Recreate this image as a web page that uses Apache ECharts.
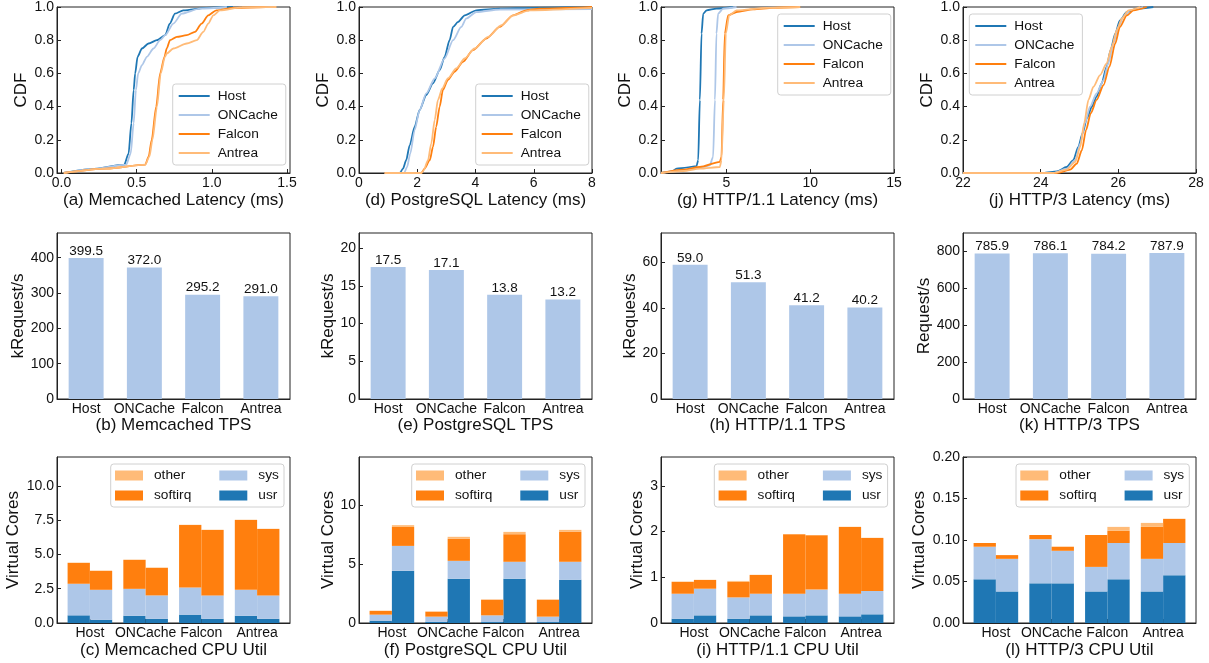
<!DOCTYPE html>
<html>
<head>
<meta charset="utf-8">
<script src="https://cdn.jsdelivr.net/npm/echarts@6/dist/echarts.min.js"></script>
<style>
html, body { margin: 0; padding: 0; background: #fff; }
#chart { width: 1209px; height: 663px; }
</style>
</head>
<body>
<div id="chart"></div>
<script>
var systems = ['Host', 'ONCache', 'Falcon', 'Antrea'];
var cpuParts = ['usr', 'sys', 'softirq', 'other'];

// CDF curves, [latency, cdf]
var memHost = [[0.015,0],[0.2,0.023],[0.417,0.05],[0.446,0.117],[0.465,0.3],[0.48,0.5],[0.49,0.6],[0.506,0.7],[0.535,0.75],[0.579,0.78],[0.634,0.8],[0.69,0.83],[0.72,0.9],[0.755,0.96],[0.81,0.98],[0.965,0.995],[1.14,1.0]];
var memOnc = [[0.015,0],[0.2,0.023],[0.43,0.05],[0.46,0.117],[0.48,0.3],[0.495,0.5],[0.51,0.6],[0.535,0.65],[0.568,0.7],[0.612,0.75],[0.656,0.8],[0.69,0.83],[0.744,0.9],[0.8,0.96],[0.92,0.99],[1.1,1.0]];
var memFal = [[0.015,0],[0.3,0.026],[0.557,0.05],[0.58,0.1],[0.6,0.2],[0.63,0.4],[0.656,0.6],[0.685,0.7],[0.7,0.75],[0.722,0.8],[0.767,0.82],[0.833,0.83],[0.888,0.85],[0.932,0.9],[0.976,0.95],[1.03,0.98],[1.14,0.995],[1.36,1.0]];
var memAnt = [[0.015,0],[0.3,0.026],[0.557,0.05],[0.585,0.1],[0.605,0.2],[0.635,0.4],[0.66,0.6],[0.688,0.7],[0.7,0.72],[0.744,0.75],[0.833,0.78],[0.9,0.8],[0.943,0.85],[0.976,0.9],[1.01,0.95],[1.054,0.98],[1.2,0.998],[1.43,1.0]];

var pgHost = [[0.88,0],[1.4,0],[1.51,0.026],[1.62,0.077],[1.74,0.167],[1.91,0.278],[2.08,0.379],[2.31,0.47],[2.54,0.54],[2.77,0.62],[2.94,0.7],[3.11,0.8],[3.23,0.88],[3.4,0.91],[3.63,0.95],[4.03,0.98],[4.83,0.99],[6.0,0.995],[8,1.0]];
var pgOnc = [[0.88,0],[1.55,0],[1.65,0.036],[1.76,0.117],[1.91,0.258],[2.08,0.379],[2.31,0.48],[2.6,0.57],[2.94,0.69],[3.23,0.8],[3.51,0.88],[3.68,0.93],[4.03,0.97],[4.83,0.985],[8,0.988]];
var pgFal = [[0.88,0],[2.14,0],[2.25,0.026],[2.43,0.077],[2.54,0.157],[2.65,0.278],[2.77,0.4],[2.88,0.5],[3.05,0.56],[3.28,0.61],[3.57,0.67],[3.91,0.74],[4.37,0.81],[4.83,0.88],[5.29,0.95],[5.74,0.98],[6.2,0.99],[8,1.0]];
var pgAnt = [[0.88,0],[2.14,0],[2.22,0.016],[2.37,0.077],[2.48,0.177],[2.6,0.32],[2.71,0.44],[2.86,0.51],[3.05,0.57],[3.34,0.63],[3.63,0.69],[3.97,0.75],[4.43,0.82],[4.89,0.89],[5.29,0.95],[5.86,0.98],[8,0.995]];

var h1Host = [[1.09,0],[1.73,0.008],[2.02,0.026],[2.62,0.032],[3.21,0.042],[3.31,0.077],[3.41,0.44],[3.51,0.84],[3.61,0.96],[3.81,0.98],[4.4,0.99],[5.4,1.0]];
var h1Onc = [[1.09,0],[2.02,0.012],[2.82,0.026],[3.61,0.036],[4.0,0.046],[4.2,0.097],[4.31,0.44],[4.4,0.84],[4.5,0.96],[4.8,0.99],[5.6,1.0]];
var h1Fal = [[1.09,0],[2.42,0.02],[3.41,0.036],[4.6,0.067],[4.7,0.097],[4.8,0.44],[4.9,0.84],[5.1,0.95],[5.6,0.97],[6.59,0.986],[7.78,0.995],[9.4,1.0]];
var h1Ant = [[1.09,0],[2.42,0.012],[3.41,0.026],[4.6,0.036],[4.7,0.077],[4.84,0.44],[4.96,0.84],[5.16,0.95],[5.6,0.98],[7.4,0.995],[9.4,1.0]];

var h3Host = [[22,0],[24.07,0],[24.42,0.01],[24.67,0.036],[24.84,0.077],[24.97,0.157],[25.08,0.24],[25.19,0.33],[25.32,0.4],[25.44,0.46],[25.57,0.54],[25.7,0.64],[25.8,0.74],[25.92,0.84],[26.04,0.92],[26.22,0.97],[26.47,0.99],[26.9,1.0]];
var h3Onc = [[22,0],[24.33,0],[24.67,0.026],[24.89,0.077],[25.02,0.177],[25.14,0.3],[25.27,0.4],[25.44,0.48],[25.62,0.56],[25.74,0.66],[25.87,0.78],[26.0,0.88],[26.13,0.94],[26.3,0.98],[26.64,1.0]];
var h3Fal = [[22,0],[24.42,0],[24.76,0.02],[24.93,0.056],[25.06,0.137],[25.17,0.26],[25.29,0.36],[25.44,0.44],[25.62,0.53],[25.77,0.64],[25.92,0.78],[26.04,0.88],[26.22,0.95],[26.39,0.98],[26.73,1.0]];
var h3Ant = [[22,0],[24.33,0],[24.67,0.02],[24.89,0.067],[25.02,0.157],[25.12,0.3],[25.23,0.44],[25.36,0.52],[25.53,0.59],[25.7,0.66],[25.83,0.76],[25.96,0.86],[26.09,0.93],[26.26,0.98],[26.56,1.0]];

// throughput
var memTps = [399.5, 372.0, 295.2, 291.0];
var pgTps = [17.5, 17.1, 13.8, 13.2];
var h1Tps = [59.0, 51.3, 41.2, 40.2];
var h3Tps = [785.9, 786.1, 784.2, 787.9];

// cpu util, two bars per system: Host L, Host R, ONCache L, ...
var memUsr = [0.56, 0.24, 0.53, 0.31, 0.61, 0.31, 0.53, 0.31];
var memSys = [2.30, 2.18, 1.96, 1.70, 1.98, 1.70, 1.89, 1.70];
var memSoft = [1.52, 1.38, 2.11, 2.01, 4.55, 4.77, 5.09, 4.84];
var memOther = [0.02, 0.02, 0.02, 0.02, 0.02, 0.02, 0.02, 0.02];

var pgUsr = [0.20, 4.44, 0.11, 3.76, 0.08, 3.76, 0.08, 3.67];
var pgSys = [0.51, 2.11, 0.43, 1.52, 0.57, 1.44, 0.46, 1.53];
var pgSoft = [0.31, 1.61, 0.42, 1.87, 1.33, 2.34, 1.44, 2.54];
var pgOther = [0.03, 0.15, 0.02, 0.17, 0.01, 0.20, 0.01, 0.17];

var h1Usr = [0.094, 0.167, 0.094, 0.167, 0.145, 0.167, 0.145, 0.19];
var h1Sys = [0.546, 0.583, 0.466, 0.473, 0.495, 0.563, 0.495, 0.51];
var h1Soft = [0.26, 0.19, 0.34, 0.41, 1.30, 1.19, 1.46, 1.16];
var h1Other = [0.005, 0.005, 0.02, 0.005, 0.005, 0.005, 0.005, 0.005];

var h3Usr = [0.0526, 0.038, 0.0478, 0.0478, 0.038, 0.0526, 0.038, 0.0575];
var h3Sys = [0.0393, 0.0393, 0.0532, 0.0392, 0.0296, 0.0438, 0.0393, 0.0389];
var h3Soft = [0.0045, 0.0045, 0.005, 0.0049, 0.0384, 0.0146, 0.0385, 0.0291];
var h3Other = [0, 0, 0, 0, 0, 0.0048, 0.0048, 0];

// tick labels
var cdfTicks = [0, 0.2, 0.4, 0.6, 0.8, 1.0];
var memLatTicks = [0, 0.5, 1.0, 1.5];
var pgLatTicks = [0, 2, 4, 6, 8];
var h1LatTicks = [5, 10, 15];
var h3LatTicks = [22, 24, 26, 28];
var memTpsTicks = [0, 100, 200, 300, 400];
var pgTpsTicks = [0, 5, 10, 15, 20];
var h1TpsTicks = [0, 20, 40, 60];
var h3TpsTicks = [0, 200, 400, 600, 800];
var memCpuTicks = [0, 2.5, 5, 7.5, 10];
var pgCpuTicks = [0, 5, 10];
var h1CpuTicks = [0, 1, 2, 3];
var h3CpuTicks = [0, 0.05, 0.1, 0.15, 0.2];
var groupTicks = [0, 1, 2, 3];

var lineColors = ['#1f77b4', '#aec7e8', '#ff7f0e', '#ffbb78'];
var FONT = 'Liberation Sans, Arial, sans-serif';
var INK = '#111';
var EDGE = '#222';

var colLeft = [57, 359, 661, 963];
var rowTop = [7, 233, 457];
var plotW = 233, plotH = 166;

var grids = [], xAxes = [], yAxes = [], series = [], legends = [];

function addGrid(row, col) {
    grids.push({
        left: colLeft[col], top: rowTop[row], width: plotW, height: plotH,
        show: true, borderColor: EDGE, borderWidth: 1, backgroundColor: 'transparent'
    });
    return grids.length - 1;
}

function valAxis(gi, min, max, ticks, fmt, name, nameGap) {
    return {
        type: 'value', gridIndex: gi, min: min, max: max,
        name: name, nameLocation: 'middle', nameGap: nameGap,
        nameTextStyle: { fontSize: 17, color: INK, fontFamily: FONT },
        axisLine: { show: true, onZero: false, lineStyle: { color: EDGE, width: 1 } },
        axisTick: { show: true, inside: true, length: 4, customValues: ticks, lineStyle: { color: EDGE } },
        axisLabel: { show: true, customValues: ticks, margin: 3, fontSize: 14, color: INK, fontFamily: FONT, formatter: fmt },
        splitLine: { show: false }
    };
}

function fixed(d) {
    return function (v) { return Number(v).toFixed(d); };
}

function cdfPanel(col, curves, xmin, xmax, xticks, xfmt, title, legendPos) {
    var gi = addGrid(0, col);
    xAxes.push(valAxis(gi, xmin, xmax, xticks, xfmt, title, 19));
    yAxes.push(valAxis(gi, 0, 1, cdfTicks, fixed(1), 'CDF', 27));
    curves.forEach(function (pts, k) {
        series.push({
            type: 'line', name: systems[k], xAxisIndex: gi, yAxisIndex: gi,
            data: pts, symbol: 'none', smooth: 0.25, smoothMonotone: 'x',
            lineStyle: { color: lineColors[k], width: 1.8 }, itemStyle: { color: lineColors[k] },
            silent: true
        });
    });
    legends.push({
        data: systems, orient: 'vertical', left: legendPos[0], top: legendPos[1],
        icon: 'rect', itemWidth: 31, itemHeight: 2, itemGap: 3, padding: [4, 8, 4, 6],
        borderColor: '#d0d0d0', borderWidth: 1, borderRadius: 3, backgroundColor: 'rgba(255,255,255,0.8)',
        textStyle: { fontSize: 13.7, color: INK, fontFamily: FONT, lineHeight: 16, padding: [0, 0, 0, 3] }
    });
}

function tpsPanel(col, vals, ymax, yticks, yname, nameGap, title) {
    var gi = addGrid(1, col);
    xAxes.push({
        type: 'category', gridIndex: gi, data: systems,
        name: title, nameLocation: 'middle', nameGap: 18,
        nameTextStyle: { fontSize: 17, color: INK, fontFamily: FONT },
        axisLine: { show: true, onZero: false, lineStyle: { color: EDGE, width: 1 } },
        axisTick: { show: true, inside: true, length: 4, alignWithLabel: true, lineStyle: { color: EDGE } },
        axisLabel: { interval: 0, margin: 3, fontSize: 14, color: INK, fontFamily: FONT }
    });
    yAxes.push(valAxis(gi, 0, ymax, yticks, fixed(0), yname, nameGap));
    series.push({
        type: 'bar', name: 'tps', xAxisIndex: gi, yAxisIndex: gi, data: vals,
        barWidth: '60%', itemStyle: { color: '#aec7e8' }, silent: true,
        label: {
            show: true, position: 'top', distance: 0, fontSize: 13.5, color: INK, fontFamily: FONT,
            formatter: function (p) { return p.value.toFixed(1); }
        }
    });
}

function renderStack(params, api) {
    var x = api.value(0);
    var x0 = api.value(1) === 0 ? x - 0.4 : x;
    var p0 = api.coord([x0, api.value(3)]);
    var p1 = api.coord([x0 + 0.4, api.value(2)]);
    return {
        type: 'rect',
        shape: { x: p0[0], y: p0[1], width: p1[0] - p0[0], height: p1[1] - p0[1] },
        style: { fill: api.visual('color') }
    };
}

function cpuPanel(col, parts, ymax, yticks, yfmt, nameGap, title, legendLeft) {
    var gi = addGrid(2, col);
    xAxes.push(valAxis(gi, -0.59, 3.59, groupTicks, function (v) { return systems[Math.round(v)]; }, title, 19));
    yAxes.push(valAxis(gi, 0, ymax, yticks, yfmt, 'Virtual Cores', nameGap));
    var base = [0, 0, 0, 0, 0, 0, 0, 0];
    parts.forEach(function (vals, k) {
        var data = vals.map(function (v, i) {
            var item = [Math.floor(i / 2), i % 2, base[i], base[i] + v];
            base[i] += v;
            return item;
        });
        series.push({
            type: 'custom', name: cpuParts[k], xAxisIndex: gi, yAxisIndex: gi,
            renderItem: renderStack, encode: { x: 0, y: [2, 3] }, data: data,
            itemStyle: { color: lineColors[k] }, silent: true
        });
    });
    var legendText = { fontSize: 13.7, color: INK, fontFamily: FONT, lineHeight: 16, padding: [0, 0, 0, 6], width: 60 };
    legends.push({
        data: ['other', 'softirq'], orient: 'vertical', left: legendLeft, top: 464,
        icon: 'rect', itemWidth: 28, itemHeight: 10, itemGap: 4, padding: [3.5, 70, 3.5, 4.3],
        borderColor: '#d0d0d0', borderWidth: 1, borderRadius: 3, backgroundColor: 'rgba(255,255,255,0.8)',
        textStyle: legendText
    });
    legends.push({
        data: ['sys', 'usr'], orient: 'vertical', left: legendLeft + 108.6, top: 464, z: 5,
        icon: 'rect', itemWidth: 28, itemHeight: 10, itemGap: 4, padding: [3.5, 0, 3.5, 0],
        textStyle: legendText
    });
}

cdfPanel(0, [memHost, memOnc, memFal, memAnt], -0.03, 1.52, memLatTicks, fixed(1), '(a) Memcached Latency (ms)', [172.7, 84]);
cdfPanel(1, [pgHost, pgOnc, pgFal, pgAnt], 0, 8, pgLatTicks, fixed(0), '(d) PostgreSQL Latency (ms)', [475.7, 84]);
cdfPanel(2, [h1Host, h1Onc, h1Fal, h1Ant], 1.09, 15, h1LatTicks, fixed(0), '(g) HTTP/1.1 Latency (ms)', [777.7, 14]);
cdfPanel(3, [h3Host, h3Onc, h3Fal, h3Ant], 22, 28, h3LatTicks, fixed(0), '(j) HTTP/3 Latency (ms)', [969.3, 14]);

tpsPanel(0, memTps, 470, memTpsTicks, 'kRequest/s', 28, '(b) Memcached TPS');
tpsPanel(1, pgTps, 22, pgTpsTicks, 'kRequest/s', 22, '(e) PostgreSQL TPS');
tpsPanel(2, h1Tps, 73, h1TpsTicks, 'kRequest/s', 22, '(h) HTTP/1.1 TPS');
tpsPanel(3, h3Tps, 896, h3TpsTicks, 'Request/s', 28.7, '(k) HTTP/3 TPS');

cpuPanel(0, [memUsr, memSys, memSoft, memOther], 12.1, memCpuTicks, fixed(1), 35, '(c) Memcached CPU Util', 110.7);
cpuPanel(1, [pgUsr, pgSys, pgSoft, pgOther], 14.1, pgCpuTicks, fixed(0), 22, '(f) PostgreSQL CPU Util', 411.7);
cpuPanel(2, [h1Usr, h1Sys, h1Soft, h1Other], 3.63, h1CpuTicks, fixed(0), 15.3, '(i) HTTP/1.1 CPU Util', 714.3);
cpuPanel(3, [h3Usr, h3Sys, h3Soft, h3Other], 0.2, h3CpuTicks, fixed(2), 35.4, '(l) HTTP/3 CPU Util', 1016);

var myChart = echarts.init(document.getElementById('chart'));
myChart.setOption({
    animation: false,
    backgroundColor: '#fff',
    textStyle: { fontFamily: FONT },
    grid: grids,
    xAxis: xAxes,
    yAxis: yAxes,
    legend: legends,
    series: series
});
</script>
</body>
</html>
